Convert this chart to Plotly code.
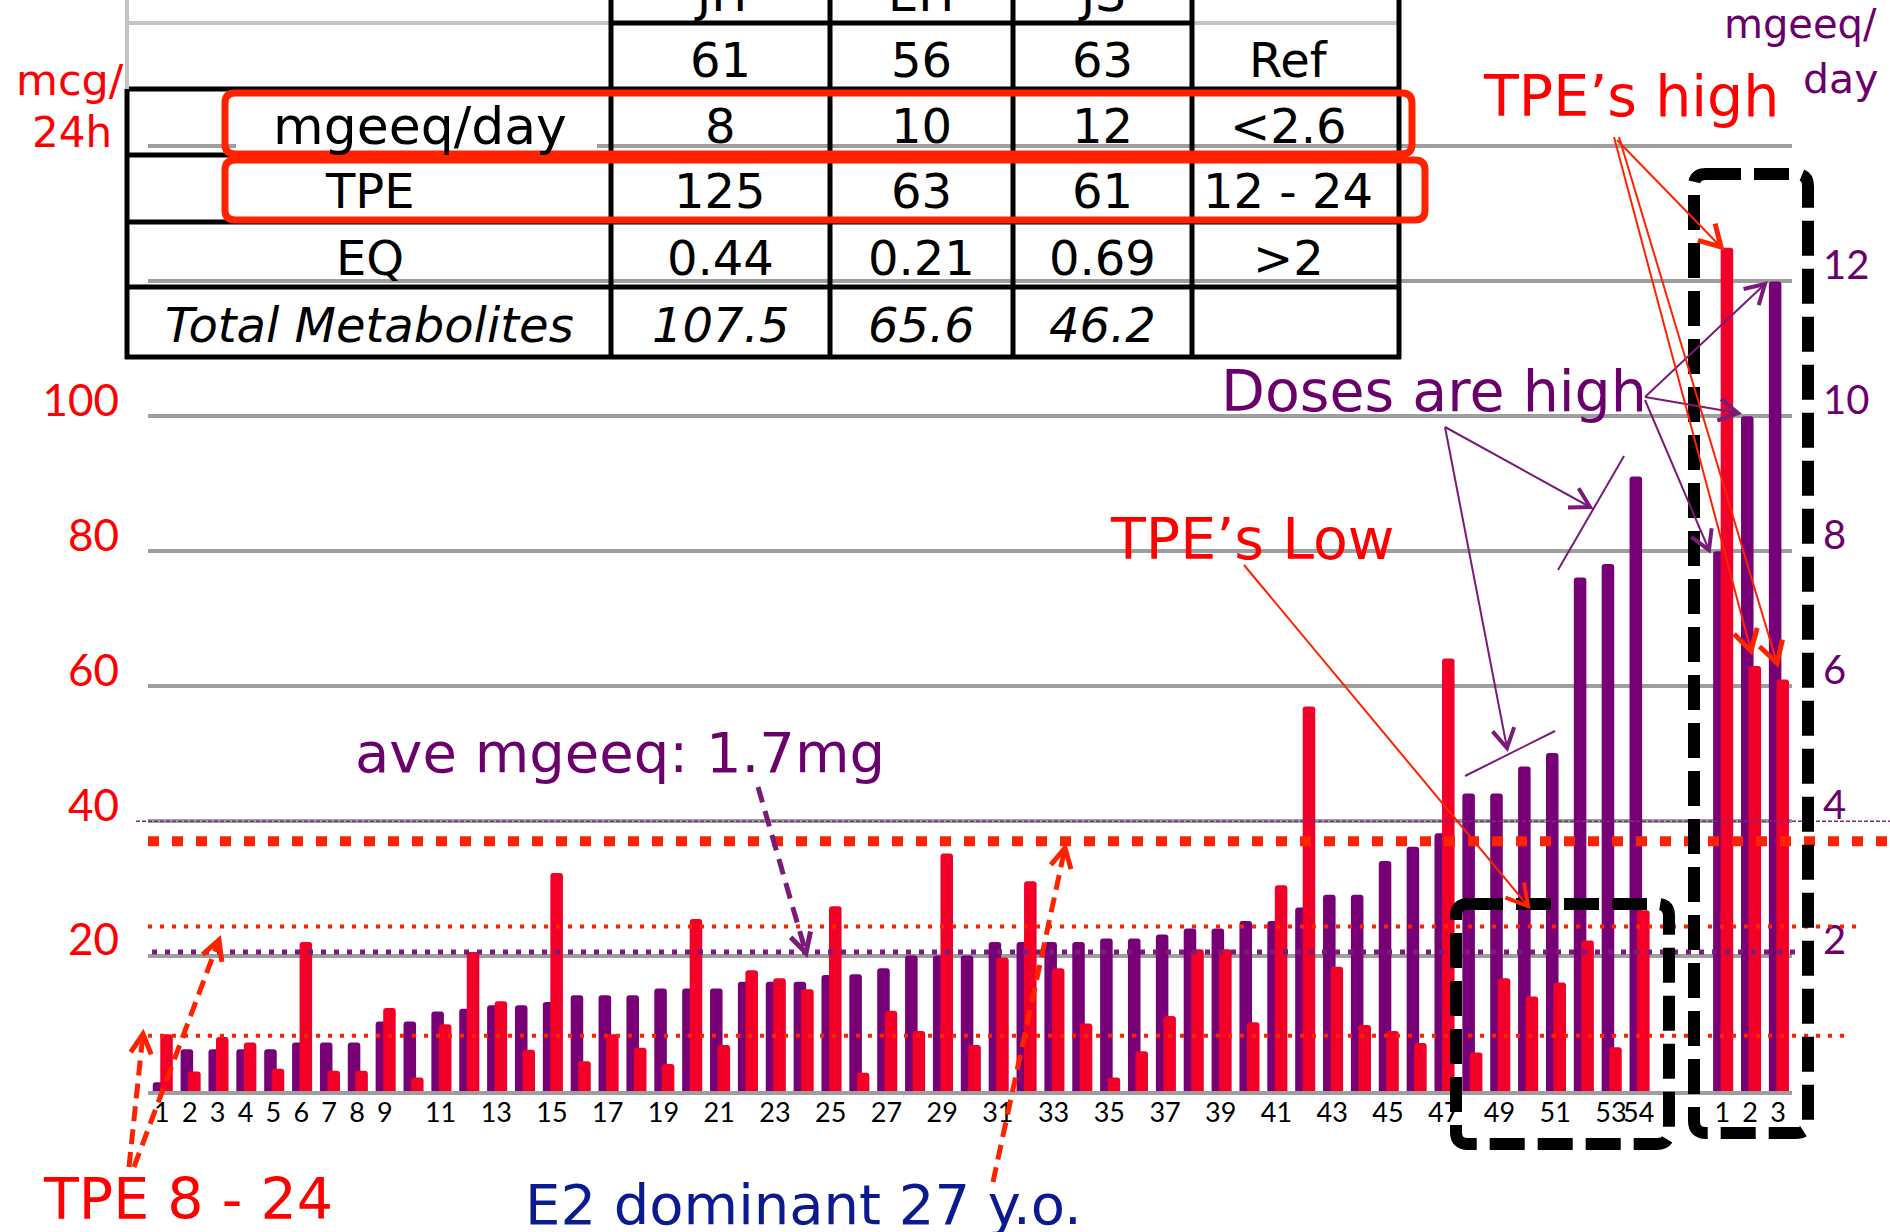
import math
import plotly.graph_objects as go

# ---------------- data ----------------
patient_ids = list(range(1, 55))
mgeeq_day = [0.13, 0.62, 0.62, 0.62, 0.62, 0.72, 0.72, 0.72, 1.03, 1.03,
             1.18, 1.22, 1.27, 1.27, 1.32, 1.42, 1.42, 1.42, 1.52, 1.52,
             1.52, 1.62, 1.62, 1.62, 1.72, 1.73, 1.82, 2.01, 2.01, 2.01,
             2.21, 2.21, 2.21, 2.21, 2.26, 2.26, 2.32, 2.41, 2.41, 2.52,
             2.52, 2.72, 2.91, 2.91, 3.41, 3.62, 3.82, 4.41, 4.41, 4.81,
             5.01, 7.61, 7.81, 9.11]
tpe_mcg = [8.4, 2.9, 8.0, 7.2, 3.3, 22.1, 3.0, 3.0, 12.3, 2.0,
           9.9, 20.6, 13.3, 6.1, 32.3, 4.4, 8.4, 6.4, 4.0, 25.5,
           6.8, 17.9, 16.7, 15.1, 27.4, 2.7, 11.9, 8.9, 35.2, 6.8,
           19.8, 31.1, 18.2, 10.0, 2.0, 5.9, 11.1, 21.0, 21.0, 10.2,
           30.5, 57.0, 18.4, 9.8, 8.9, 7.1, 64.1, 5.7, 16.7, 14.0,
           16.1, 22.3, 6.5, 26.8]
main_tick_text = ["1", "2", "3", "4", "5", "6", "7", "8", "9", "",
                  "11", "", "13", "", "15", "", "17", "", "19", "",
                  "21", "", "23", "", "25", "", "27", "", "29", "",
                  "31", "", "33", "", "35", "", "37", "", "39", "",
                  "41", "", "43", "", "45", "", "47", "", "49", "",
                  "51", "", "53", "54"]

case_names = ["JH", "EH", "JS"]
case_ages = [61, 56, 63]
case_mgeeq = [8, 10, 12]
case_tpe = [125, 63, 61]
case_eq = [0.44, 0.21, 0.69]
case_total = [107.5, 65.6, 46.2]
case_tick_text = ["1", "2", "3"]
ref_col = ["Ref", "<2.6", "12 - 24", ">2", ""]
table_row_labels = ["", "mgeeq/day", "TPE", "EQ", "Total Metabolites"]

tpe_ticks = [20, 40, 60, 80, 100]
mgeeq_ticks = [2, 4, 6, 8, 10, 12, 14]
mgeeq_tick_text = ["2", "4", "6", "8", "10", "12", ""]

tpe_ref_low, tpe_ref_high, tpe_thick_line = 8.2, 24.4, 37.0
mgeeq_avg_line, mgeeq_thin_line = 2.06, 4.0

# ---------------- style ----------------
PURPLE_BAR = "#770077"
RED_BAR = "#f20028"
PURPLE_TXT = "#6b006d"
RED_TXT = "#ff0000"
LINE_RED = "#ff2200"
NAVY = "#0b1a8f"
GRID = "#9e9e9e"
FONT = "DejaVu Sans"
TICKFONT = "Lato"

FIG_W, FIG_H = 1890, 1232
ML, MR, MT, MB = 148, 98, 79, 141
PW, PH = FIG_W - ML - MR, FIG_H - MT - MB


def px(x):
    return (x - ML) / PW


def py(y):
    return (FIG_H - MB - y) / PH


GAP = 2
x_main = list(range(len(patient_ids)))
x_case = [len(patient_ids) + GAP + j for j in range(len(case_names))]

fig = go.Figure()
fig.add_trace(go.Bar(x=x_main + x_case, y=mgeeq_day + case_mgeeq, yaxis="y",
                     width=0.45, offset=-0.33,
                     marker=dict(color=PURPLE_BAR, cornerradius=3, line=dict(width=0)),
                     name="mgeeq/day"))
fig.add_trace(go.Bar(x=x_main + x_case, y=tpe_mcg + case_tpe, yaxis="y2",
                     width=0.45, offset=-0.06,
                     marker=dict(color=RED_BAR, cornerradius=3, line=dict(width=0)),
                     name="TPE"))

shapes = []
annotations = []


def seg(x0, y0, x1, y1, color, width, dash=None):
    ln = dict(color=color, width=width)
    if dash:
        ln["dash"] = dash
    shapes.append(dict(type="line", xref="paper", yref="paper",
                       x0=px(x0), y0=py(y0), x1=px(x1), y1=py(y1), line=ln))


def arrow(x0, y0, x1, y1, color, width, dash=None, head=20, hw=None, ang=30):
    seg(x0, y0, x1, y1, color, width, dash)
    dx, dy = x1 - x0, y1 - y0
    n = math.hypot(dx, dy)
    bx, by = -dx / n, -dy / n
    a = math.radians(ang)
    h1 = (x1 + head * (bx * math.cos(a) - by * math.sin(a)), y1 + head * (bx * math.sin(a) + by * math.cos(a)))
    h2 = (x1 + head * (bx * math.cos(a) + by * math.sin(a)), y1 + head * (-bx * math.sin(a) + by * math.cos(a)))
    shapes.append(dict(type="path", xref="paper", yref="paper",
                       path=f"M {px(h1[0])} {py(h1[1])} L {px(x1)} {py(y1)} L {px(h2[0])} {py(h2[1])}",
                       line=dict(color=color, width=hw or width)))


def rrect(l, t, r, b, rad, color, width, dash=None, fill=None):
    p = (f"M {px(l + rad)} {py(t)} L {px(r - rad)} {py(t)} Q {px(r)} {py(t)} {px(r)} {py(t + rad)} "
         f"L {px(r)} {py(b - rad)} Q {px(r)} {py(b)} {px(r - rad)} {py(b)} "
         f"L {px(l + rad)} {py(b)} Q {px(l)} {py(b)} {px(l)} {py(b - rad)} "
         f"L {px(l)} {py(t + rad)} Q {px(l)} {py(t)} {px(l + rad)} {py(t)} Z")
    ln = dict(color=color, width=width)
    if dash:
        ln["dash"] = dash
    shapes.append(dict(type="path", xref="paper", yref="paper", path=p, line=ln,
                       fillcolor=fill or "rgba(0,0,0,0)"))


def text(x, y, s, size, color, xanchor="center", family=FONT):
    annotations.append(dict(x=px(x), y=py(y), xref="paper", yref="paper", text=s,
                            showarrow=False, xanchor=xanchor, yanchor="middle",
                            font=dict(family=family, size=size, color=color)))


# ---- reference lines (data positions) ----
def hline(yval, yref, x0, x1, color, width, dash):
    shapes.append(dict(type="line", xref="paper", yref=yref, x0=px(x0), x1=px(x1),
                       y0=yval, y1=yval, line=dict(color=color, width=width, dash=dash)))


hline(mgeeq_thin_line, "y", 136, 1890, "#7a2a80", 1.5, "4px,2px")
hline(tpe_thick_line, "y2", 148, 1890, LINE_RED, 10, "11px,13px")
hline(tpe_ref_high, "y2", 148, 1856, LINE_RED, 4, "4px,8px")
hline(tpe_ref_low, "y2", 148, 1850, LINE_RED, 4, "4px,8px")
hline(mgeeq_avg_line, "y", 152, 1802, "#7a1a7a", 5, "5px,8px")

# ---- table ----
shapes.append(dict(type="rect", xref="paper", yref="paper", x0=px(236), x1=px(597),
                   y0=py(144), y1=py(152), fillcolor="white", line=dict(width=0)))
col_x = [127, 611, 830, 1013, 1192, 1399]
row_y = [23, 89, 155, 222, 287, 357]
seg(127, 23, 611, 23, "#c4c4c4", 4)
seg(1192, 23, 1399, 23, "#c4c4c4", 4)
seg(611, 23, 1192, 23, "black", 5)
for yy in row_y[1:]:
    seg(125, yy, 1401, yy, "black", 5)
seg(127, -5, 127, 89, "#c4c4c4", 4)
seg(127, 89, 127, 359, "black", 5)
for xx in col_x[1:]:
    seg(xx, -5, xx, 359, "black", 5)

rrect(225, 93, 1412, 154, 10, LINE_RED, 7)
rrect(225, 160, 1425, 220, 10, LINE_RED, 7)

col_centers = [720, 921, 1102]
row_text_y = [-6, 60, 126, 191, 258, 325]
TSIZE = 48
for j, nm in enumerate(case_names):
    text(col_centers[j], row_text_y[0], nm, TSIZE, "black")
rows = [
    [str(v) for v in case_ages],
    [str(v) for v in case_mgeeq],
    [str(v) for v in case_tpe],
    [f"{v:.2f}" for v in case_eq],
    [f"<i>{v}</i>" for v in case_total],
]
for i, vals in enumerate(rows):
    yy = row_text_y[i + 1]
    for j, v in enumerate(vals):
        text(col_centers[j], yy, v, TSIZE, "black")
    if ref_col[i]:
        text(1288, yy, ref_col[i].replace("<", "&lt;"), TSIZE, "black")
    lab = table_row_labels[i]
    if lab:
        if i == 4:
            text(369, yy, f"<i>{lab}</i>", TSIZE, "black")
        elif i == 1:
            text(420, yy, lab, 52, "black")
        else:
            text(370, yy, lab, TSIZE, "black")

# ---- dashed black boxes ----
rrect(1456, 904, 1669, 1144, 12, "black", 12, "35px,13px")
rrect(1694, 174, 1808, 1133, 12, "black", 12, "35px,13px")

# ---- arrows ----
arrow(129, 1167, 143, 1034, LINE_RED, 5, "15px,8px", head=22, ang=28)
arrow(134, 1167, 219, 940, LINE_RED, 5, "15px,8px", head=22, ang=28)
arrow(993, 1182, 1065, 848, LINE_RED, 5, "15px,8px", head=22, ang=28)
arrow(758, 787, 806, 953, "#7a1a7a", 5, "16px,9px", head=22, ang=28)
arrow(1244, 565, 1528, 906, LINE_RED, 2, head=24, hw=4, ang=30)
arrow(1445, 427, 1507, 748, "#7a1a7a", 2, head=22, hw=4, ang=30)
arrow(1445, 427, 1590, 507, "#7a1a7a", 2, head=22, hw=4, ang=30)
arrow(1645, 397, 1765, 284, "#7a1a7a", 2, head=22, hw=4, ang=30)
arrow(1645, 397, 1738, 413, "#7a1a7a", 2, head=22, hw=4, ang=30)
arrow(1645, 400, 1709, 550, "#7a1a7a", 2, head=22, hw=4, ang=30)
seg(1465, 776, 1555, 731, "#7a1a7a", 2)
seg(1558, 570, 1624, 456, "#7a1a7a", 2)
arrow(1617, 140, 1721, 247, LINE_RED, 2, head=24, hw=5, ang=30)
arrow(1614, 137, 1751, 651, LINE_RED, 2, head=24, hw=5, ang=30)
arrow(1619, 137, 1777, 663, LINE_RED, 2, head=24, hw=5, ang=30)

# ---- free text ----
text(70, 80, "mcg/", 43, RED_TXT)
text(72, 132, "24h", 42, RED_TXT)
text(1879, 24, "mgeeq/", 40, PURPLE_TXT, xanchor="right")
text(1880, 79, "day", 41, PURPLE_TXT, xanchor="right")
text(1631, 96, "TPE\u2019s high", 57, RED_TXT)
text(1434, 391, "Doses are high", 57, PURPLE_TXT)
text(1252, 539, "TPE\u2019s Low", 57, RED_TXT)
text(620, 752, "ave mgeeq: 1.7mg", 56, PURPLE_TXT)
text(188, 1199, "TPE 8 - 24", 57, RED_TXT)
text(803, 1204, "E2 dominant 27 y.o.", 56, NAVY)

fig.update_layout(
    width=FIG_W, height=FIG_H,
    margin=dict(l=ML, r=MR, t=MT, b=MB, pad=0),
    paper_bgcolor="white", plot_bgcolor="white",
    showlegend=False, barmode="overlay",
    font=dict(family=FONT),
    xaxis=dict(range=[-0.5, x_case[-1] + 0.5], tickmode="array",
               tickvals=x_main + x_case, ticktext=main_tick_text + case_tick_text,
               tickfont=dict(family=TICKFONT, size=27, color="black"), tickangle=0,
               showgrid=False, zeroline=False, showline=True, linecolor=GRID, linewidth=4,
               ticks="", ticklabelstandoff=-5, automargin=False),
    yaxis=dict(side="right", range=[0, 15], tickmode="array", tickvals=mgeeq_ticks,
               ticktext=mgeeq_tick_text, showgrid=True, gridcolor=GRID, gridwidth=4,
               zeroline=False, ticks="", ticklabelstandoff=30, ticklabelshift=-16,
               tickfont=dict(family=TICKFONT, size=40, color=PURPLE_TXT), automargin=False),
    yaxis2=dict(side="left", overlaying="y", range=[0, 150], tickmode="array",
                tickvals=tpe_ticks, ticktext=[str(v) for v in tpe_ticks],
                showgrid=False, zeroline=False, ticks="", ticklabelstandoff=28,
                ticklabelshift=-16, automargin=False,
                tickfont=dict(family=TICKFONT, size=44, color=RED_TXT)),
    shapes=shapes, annotations=annotations,
)

fig.write_html("out.html", config={"displayModeBar": False},
               post_script="document.body.style.margin='0';document.body.style.overflow='hidden';")
